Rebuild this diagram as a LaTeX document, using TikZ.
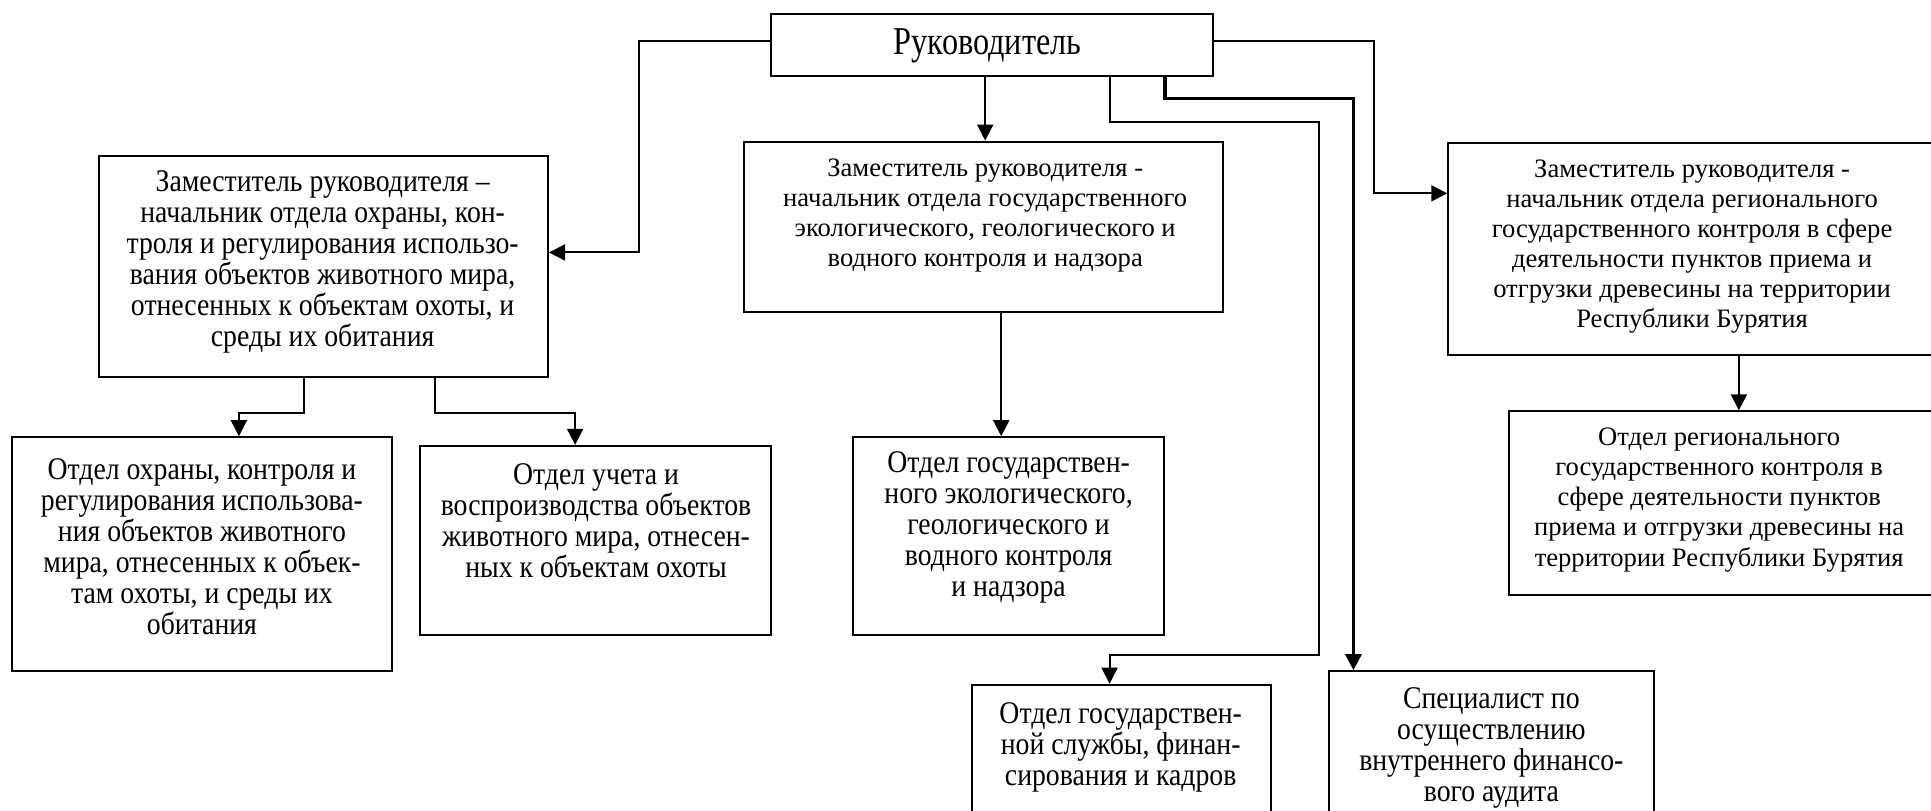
\documentclass[tikz,border=0pt]{standalone}
\usepackage{fontspec}
\setmainfont{Liberation Serif}
\newfontfamily\condf[FakeStretch=0.88]{Liberation Serif}
\newfontfamily\topf[FakeStretch=0.82]{Liberation Serif}
\usetikzlibrary{arrows.meta,fit}
\tikzset{
  box/.style={draw=black,line width=0.8pt,inner sep=0pt,fill=white},
  txt/.style={align=center,inner sep=0pt,font=\fontsize{10.8}{12.2}\selectfont},
  ctxt/.style={align=center,inner sep=0pt,font=\condf\fontsize{12.8}{12.6}\selectfont},
  conn/.style={line width=0.8pt},
  arr/.style={line width=0.8pt,-{Triangle[length=6.5pt,width=6.5pt]}},
  thickarr/.style={line width=1.3pt,-{Triangle[length=6.5pt,width=6.5pt]}}
}
\begin{document}
\begin{tikzpicture}[x=0.5pt,y=-0.5pt]
\useasboundingbox (0,0) rectangle (1568,658);
\clip (0,0) rectangle (1568,658);
\fill[white] (0,0) rectangle (1568,658);

% boxes
\node[box,fit={(626,11)(985,62)}] (top) {};
\node[align=center,inner sep=0pt,font=\topf\fontsize{16}{18}\selectfont] (topt) at (802,37) {Руководитель};

\node[box,fit={(80,127)(445,306)}] (dl) {};
\node[ctxt] (dlt) at (262,213) {Заместитель руководителя –\\начальник отдела охраны, кон-\\троля и регулирования использо-\\вания объектов животного мира,\\отнесенных к объектам охоты, и\\среды их обитания};

\node[box,fit={(604,115)(993,253)}] (dc) {};
\node[txt] (dct) at (800,175) {Заместитель руководителя -\\начальник отдела государственного\\экологического, геологического и\\водного контроля и надзора};

\node[box,fit={(1176,116)(1580,288)}] (dr) {};
\node[txt] (drt) at (1374,200) {Заместитель руководителя -\\начальник отдела регионального\\государственного контроля в сфере\\деятельности пунктов приема и\\отгрузки древесины на территории\\Республики Бурятия};

\node[box,fit={(10,355)(318,545)}] (l1) {};
\node[ctxt] (l1t) at (164,444) {Отдел охраны, контроля и\\регулирования использова-\\ния объектов животного\\мира, отнесенных к объек-\\там охоты, и среды их\\обитания};

\node[box,fit={(341,362)(626,516)}] (l2) {};
\node[ctxt] (l2t) at (484,423) {Отдел учета и\\воспроизводства объектов\\животного мира, отнесен-\\ных к объектам охоты};

\node[box,fit={(693,355)(945,516)}] (cc) {};
\node[ctxt] (cct) at (819,428) {Отдел государствен-\\ного экологического,\\геологического и\\водного контроля\\и надзора};

\node[box,fit={(789,556)(1032,700)}] (b1) {};
\node[ctxt] (b1t) at (910,607) {Отдел государствен-\\ной службы, финан-\\сирования и кадров};

\node[box,fit={(1079,545)(1343,700)}] (b2) {};
\node[ctxt] (b2t) at (1211,607) {Специалист по\\осуществлению\\внутреннего финансо-\\вого аудита};

\node[box,fit={(1225,334)(1580,483)}] (rc) {};
\node[txt] (rct) at (1396,406) {Отдел регионального\\государственного контроля в\\сфере деятельности пунктов\\приема и отгрузки древесины на\\территории Республики Бурятия};

% helper coordinates
\coordinate (ly) at (0,33);
\coordinate (a1) at (519,205);
\coordinate (a2) at (1116,157);
\coordinate (c1) at (800,0);
\coordinate (c2) at (813,0);
\coordinate (p1) at (1071,99);
\coordinate (p2) at (901,532);
\coordinate (q0) at (946,0);
\coordinate (q1) at (1099,80);
\coordinate (r1) at (247,335);
\coordinate (r2) at (194,335);
\coordinate (s1) at (353,335);
\coordinate (s2) at (467,335);
\coordinate (t1) at (1412,0);

% connectors
\draw[arr] (top.west |- ly) -| (a1) -- (dl.east |- a1);
\draw[arr] (top.east |- ly) -| (a2) -- (dr.west |- a2);
\draw[arr] (top.south -| c1) -- (dc.north -| c1);
\draw[arr] (dc.south -| c2) -- (cc.north -| c2);
\draw[arr] (top.south -| p2) |- (p1) |- (p2) -- (b1.north -| p2);
\draw[thickarr] (top.south -| q0) |- (q1) -- (b2.north -| q1);
\draw[arr] (dl.south -| r1) -- (r1) -- (r2) -- (l1.north -| r2);
\draw[arr] (dl.south -| s1) -- (s1) -- (s2) -- (l2.north -| s2);
\draw[arr] (dr.south -| t1) -- (rc.north -| t1);
\end{tikzpicture}
\end{document}
